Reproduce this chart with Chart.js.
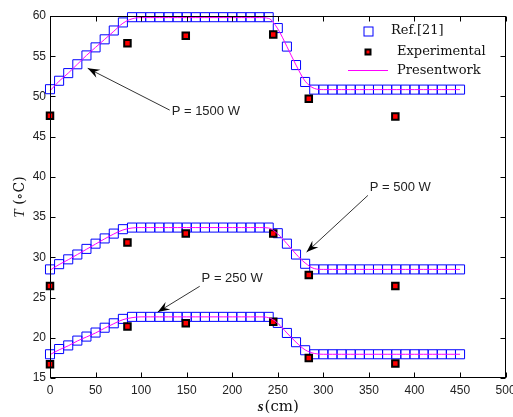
<!DOCTYPE html>
<html>
<head>
<meta charset="utf-8">
<script src="https://cdn.jsdelivr.net/npm/chart.js@4.4.0/dist/chart.umd.min.js"></script>
<style>
html,body{margin:0;padding:0;background:#fff;}
#wrap{width:513px;height:417px;}
</style>
</head>
<body>
<div id="wrap"><canvas id="grafico" width="513" height="417"></canvas></div>
<script>
// posiciones s (cm) de la referencia y del modelo
var posiciones = [0,10,20,30,40,50,60,70,80,90,100,110,120,130,140,150,160,170,180,190,200,210,220,230,240,250,260,270,280,290,300,310,320,330,340,350,360,370,380,390,400,410,420,430,440,450];

var ref1500 = [50.9,51.95,52.9,54.0,55.1,56.1,57.1,58.2,59.2,59.85,59.85,59.85,59.85,59.85,59.85,59.85,59.85,59.85,59.85,59.85,59.85,59.85,59.85,59.85,59.85,58.5,56.2,53.9,51.8,50.85,50.85,50.85,50.85,50.85,50.85,50.85,50.85,50.85,50.85,50.85,50.85,50.85,50.85,50.85,50.85,50.85];
var ref500 = [28.5,29.15,29.75,30.35,31.05,31.7,32.35,32.95,33.5,33.7,33.7,33.7,33.7,33.7,33.7,33.7,33.7,33.7,33.7,33.7,33.7,33.7,33.7,33.7,33.7,33.0,31.7,30.35,29.2,28.5,28.5,28.5,28.5,28.5,28.5,28.5,28.5,28.5,28.5,28.5,28.5,28.5,28.5,28.5,28.5,28.5];
var ref250 = [17.95,18.6,19.05,19.65,20.15,20.65,21.25,21.8,22.35,22.6,22.6,22.6,22.6,22.6,22.6,22.6,22.6,22.6,22.6,22.6,22.6,22.6,22.6,22.6,22.6,21.85,20.6,19.45,18.45,17.95,17.95,17.95,17.95,17.95,17.95,17.95,17.95,17.95,17.95,17.95,17.95,17.95,17.95,17.95,17.95,17.95];

var pres1500 = [50.7,51.9,52.9,54.0,55.1,56.1,57.1,58.1,59.1,59.65,59.8,59.8,59.8,59.8,59.8,59.8,59.8,59.8,59.8,59.8,59.8,59.8,59.8,59.8,59.7,58.4,56.2,53.9,51.9,51.0,50.85,50.85,50.85,50.85,50.85,50.85,50.85,50.85,50.85,50.85,50.85,50.85,50.85,50.85,50.85,50.85];
var pres500 = [28.4,29.1,29.7,30.35,31.0,31.65,32.3,32.9,33.4,33.65,33.7,33.7,33.7,33.7,33.7,33.7,33.7,33.7,33.7,33.7,33.7,33.7,33.7,33.7,33.65,32.9,31.7,30.4,29.3,28.6,28.5,28.5,28.5,28.5,28.5,28.5,28.5,28.5,28.5,28.5,28.5,28.5,28.5,28.5,28.5,28.5];
var pres250 = [17.9,18.5,19.0,19.6,20.1,20.6,21.2,21.75,22.25,22.5,22.6,22.6,22.6,22.6,22.6,22.6,22.6,22.6,22.6,22.6,22.6,22.6,22.6,22.6,22.5,21.8,20.6,19.45,18.5,18.05,17.95,17.95,17.95,17.95,17.95,17.95,17.95,17.95,17.95,17.95,17.95,17.95,17.95,17.95,17.95,17.95];

// datos experimentales
var posExp = [0,85,149,245,284,379];
var exp1500 = [47.6,56.6,57.55,57.7,49.7,47.5];
var exp500 = [26.45,31.85,32.95,32.95,27.8,26.45];
var exp250 = [16.7,21.4,21.8,22.0,17.5,16.8];

var ticksX = [0,50,100,150,200,250,300,350,400,450,500];
var ticksY = [15,20,25,30,35,40,45,50,55,60];

// flechas con texto (en unidades de los ejes)
var etiquetas = [
    {texto:'P = 1500 W', s:133.5, t:48.2, desdeS:131.4, desdeT:48.3, hastaS:41.4, hastaT:53.5},
    {texto:'P = 500 W', s:351, t:38.7, desdeS:348.9, desdeT:37.7, hastaS:281.6, hastaT:30.65},
    {texto:'P = 250 W', s:166.4, t:27.4, desdeS:164.3, desdeT:26.4, hastaS:118.2, hastaT:23.2}
];

function pares(xs, ys){
    return xs.map(function(x, i){ return {x: x, y: ys[i]}; });
}

function serieLinea(valores){
    return {type:'line', data: pares(posiciones, valores), borderColor:'#ff00ff', borderWidth:1,
        pointRadius:0, showLine:true, fill:false, cubicInterpolationMode:'monotone', clip:false, order:0};
}
function serieRef(valores){
    return {type:'line', data: pares(posiciones, valores), showLine:false, pointStyle:'rect',
        pointRadius:6.4, pointBorderColor:'#0000ff', pointBackgroundColor:'rgba(0,0,0,0)',
        pointBorderWidth:1, clip:false, order:2};
}
function serieExp(valores){
    return {type:'line', data: pares(posExp, valores), showLine:false, pointStyle:'rect',
        pointRadius:4.6, pointBorderColor:'#000000', pointBackgroundColor:'#ff0000',
        pointBorderWidth:2, clip:false, order:1};
}

function flecha(ctx, x1, y1, x2, y2){
    ctx.save();
    ctx.strokeStyle = '#333';
    ctx.lineWidth = 1;
    ctx.beginPath();
    ctx.moveTo(x1, y1);
    ctx.lineTo(x2, y2);
    ctx.stroke();
    var dx = x2 - x1, dy = y2 - y1;
    var d = Math.sqrt(dx*dx + dy*dy);
    var ux = dx/d, uy = dy/d, nx = -uy, ny = ux;
    var L = 12, W = 9;
    ctx.fillStyle = '#000';
    ctx.beginPath();
    ctx.moveTo(x2, y2);
    ctx.lineTo(x2 - ux*L + nx*W/2, y2 - uy*L + ny*W/2);
    ctx.lineTo(x2 - ux*L*0.65, y2 - uy*L*0.65);
    ctx.lineTo(x2 - ux*L - nx*W/2, y2 - uy*L - ny*W/2);
    ctx.closePath();
    ctx.fill();
    ctx.restore();
}

var marco = {
    id: 'marco',
    afterDraw: function(chart){
        var ctx = chart.ctx;
        var sx = chart.scales.x, sy = chart.scales.y;
        var l = Math.round(sx.left) + 0.5, r = Math.round(sx.right) - 0.5;
        var t = Math.round(sy.top) + 0.5, b = Math.round(sy.bottom) - 0.5;
        ctx.save();
        ctx.strokeStyle = '#000';
        ctx.lineWidth = 1;
        ctx.strokeRect(l, t, r - l, b - t);
        ctx.beginPath();
        ticksX.forEach(function(v){
            var px = Math.round(sx.getPixelForValue(v)) + 0.5;
            ctx.moveTo(px, b); ctx.lineTo(px, b - 5);
            ctx.moveTo(px, t); ctx.lineTo(px, t + 5);
        });
        ticksY.forEach(function(v){
            var py = Math.round(sy.getPixelForValue(v)) + 0.5;
            ctx.moveTo(l, py); ctx.lineTo(l + 5, py);
            ctx.moveTo(r, py); ctx.lineTo(r - 5, py);
        });
        ctx.stroke();

        // leyenda
        ctx.strokeStyle = '#0000ff';
        ctx.strokeRect(364, 27, 9, 9);
        ctx.fillStyle = '#000';
        ctx.fillRect(364.5, 48.5, 7, 7);
        ctx.fillStyle = '#ff0000';
        ctx.fillRect(366.5, 50.5, 3, 3);
        ctx.strokeStyle = '#ff00ff';
        ctx.beginPath();
        ctx.moveTo(348, 70.5); ctx.lineTo(388, 70.5);
        ctx.stroke();
        ctx.fillStyle = '#111';
        ctx.font = '13px "DejaVu Serif"';
        ctx.textBaseline = 'middle';
        ctx.textAlign = 'left';
        ctx.fillText('Ref.[21]', 391, 31);
        ctx.fillText('Experimental', 397, 52);
        ctx.fillText('Presentwork', 397, 71);

        // textos y flechas
        ctx.font = '13px "Liberation Sans"';
        ctx.fillStyle = '#222';
        etiquetas.forEach(function(e){
            ctx.fillText(e.texto, sx.getPixelForValue(e.s), sy.getPixelForValue(e.t));
            flecha(ctx, sx.getPixelForValue(e.desdeS), sy.getPixelForValue(e.desdeT),
                sx.getPixelForValue(e.hastaS), sy.getPixelForValue(e.hastaT));
        });

        // titulo eje x
        var cx = (sx.left + sx.right) / 2;
        ctx.fillStyle = '#111';
        ctx.font = 'bold italic 15px "Liberation Serif"';
        var w1 = ctx.measureText('s').width;
        ctx.font = '15px "DejaVu Serif"';
        var w2 = ctx.measureText('(cm)').width;
        var x0 = cx - (w1 + w2) / 2;
        ctx.font = 'bold italic 15px "Liberation Serif"';
        ctx.fillText('s', x0, 407);
        ctx.font = '15px "DejaVu Serif"';
        ctx.fillText('(cm)', x0 + w1 + 1, 407);

        // titulo eje y
        ctx.translate(20, (sy.top + sy.bottom) / 2);
        ctx.rotate(-Math.PI / 2);
        ctx.font = 'italic 15px "Liberation Serif"';
        var a1 = ctx.measureText('T').width;
        ctx.font = '14px "DejaVu Serif"';
        var a2 = ctx.measureText(' (\u2218C)').width;
        var y0 = -(a1 + a2) / 2;
        ctx.font = 'italic 15px "Liberation Serif"';
        ctx.fillText('T', y0, 0);
        ctx.font = '14px "DejaVu Serif"';
        ctx.fillText(' (\u2218C)', y0 + a1, 0);
        ctx.restore();
    }
};

var grafico = new Chart(document.getElementById('grafico'), {
    data: {
        datasets: [
            serieLinea(pres1500), serieLinea(pres500), serieLinea(pres250),
            serieExp(exp1500), serieExp(exp500), serieExp(exp250),
            serieRef(ref1500), serieRef(ref500), serieRef(ref250)
        ]
    },
    options: {
        responsive: false,
        animation: false,
        layout: {padding: {left: 0, top: 16, right: 7, bottom: 0}},
        plugins: {legend: {display: false}, tooltip: {enabled: false}},
        scales: {
            x: {
                type: 'linear', min: 0, max: 500,
                grid: {display: false, drawTicks: false},
                border: {display: false},
                afterBuildTicks: function(scale){ scale.ticks = ticksX.map(function(v){ return {value: v}; }); },
                ticks: {padding: 5, maxRotation: 0, autoSkip: false, color: '#222', font: {family: 'Liberation Sans', size: 12}},
                afterFit: function(scale){
                    scale.height = 39;
                    scale.paddingLeft = 0; scale.paddingRight = 0;
                }
            },
            y: {
                type: 'linear', min: 15, max: 60,
                grid: {display: false, drawTicks: false},
                border: {display: false},
                afterBuildTicks: function(scale){ scale.ticks = ticksY.map(function(v){ return {value: v}; }); },
                ticks: {padding: 4, autoSkip: false, color: '#222', font: {family: 'Liberation Sans', size: 12}},
                afterFit: function(scale){
                    scale.width = 50;
                    scale.paddingTop = 0; scale.paddingBottom = 0;
                }
            }
        }
    },
    plugins: [marco]
});
</script>
</body>
</html>
